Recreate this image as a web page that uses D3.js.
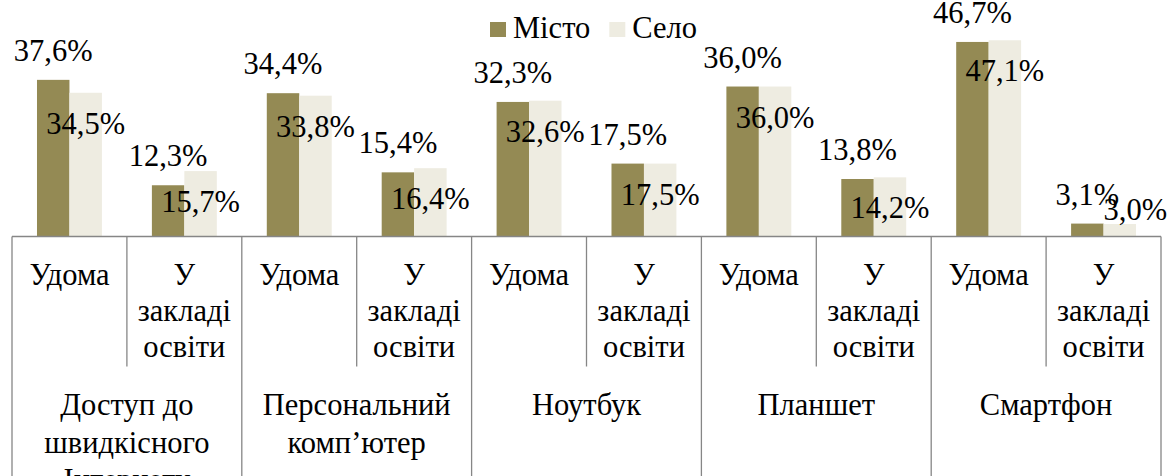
<!DOCTYPE html>
<html>
<head>
<meta charset="utf-8">
<script src="https://cdn.jsdelivr.net/npm/d3@7"></script>
</head>
<body style="margin:0">
<svg id="chart" width="1168" height="476" font-family="Liberation Serif, Times New Roman, Tinos, Noto Serif, DejaVu Serif, serif"></svg>
<script>
// ---- data ----
const groups = ["Доступ до швидкісного Інтернету", "Персональний комп’ютер", "Ноутбук", "Планшет", "Смартфон"];
const places = ["Удома", "У закладі освіти"];
const series = ["Місто", "Село"];
const mistoValues = [37.6, 12.3, 34.4, 15.4, 32.3, 17.5, 36.0, 13.8, 46.7, 3.1];
const seloValues = [34.5, 15.7, 33.8, 16.4, 32.6, 17.5, 36.0, 14.2, 47.1, 3.0];
const colors = ["#948A54", "#EEECE1"];

// ---- layout ----
const W = 1168, H = 476;
const left = 12, right = 1161, axisY = 236.5;
const fontSize = 30.5;
const FONT = "Liberation Serif, Times New Roman, Tinos, Noto Serif, DejaVu Serif, serif";
const svg = d3.select("#chart");
const addText = sel => sel.append("text").attr("font-family", FONT).attr("font-size", fontSize).attr("fill", "#000");

const slots = [];
groups.forEach((g, gi) => places.forEach((p, pi) => slots.push({ id: gi + "_" + pi, group: g, place: p, gi, pi })));
slots.forEach((s, i) => { s.values = [mistoValues[i], seloValues[i]]; });

const x0 = d3.scaleBand().domain(slots.map(s => s.id)).range([left, right]).padding(0);
const x1 = d3.scaleBand().domain(series).range([0, x0.bandwidth()]).paddingInner(0).paddingOuter(0.77);
const y = d3.scaleLinear().domain([0, 50]).range([axisY, axisY - 208.3]);

const fmt = v => d3.format(".1f")(v).replace(".", ",") + "%";

// bars
const gSlots = svg.append("g").selectAll("g").data(slots).join("g")
  .attr("transform", d => `translate(${x0(d.id)},0)`);
gSlots.selectAll("rect").data(d => d.values.map((v, k) => ({ v, k }))).join("rect")
  .attr("x", d => x1(series[d.k]))
  .attr("width", x1.bandwidth())
  .attr("y", d => y(d.v))
  .attr("height", d => y(0) - y(d.v))
  .attr("fill", d => colors[d.k]);

// data labels
gSlots.each(function (s) {
  const g = d3.select(this);
  s.values.forEach((v, k) => {
    const cx = x1(series[k]) + x1.bandwidth() / 2;
    const t = addText(g).text(fmt(v));
    if (k === 0) {
      t.attr("x", cx).attr("y", y(v) - 19).attr("text-anchor", "middle");
    } else {
      const inside = y(v) + 41;
      if (inside <= y(0) - 14) {
        t.attr("x", cx).attr("y", inside).attr("text-anchor", "middle");
      } else {
        t.attr("x", x1(series[k])).attr("y", y(0) - 16.5).attr("text-anchor", "start");
      }
    }
  });
});

// axis lines
const axisColor = "#868686";
svg.append("line").attr("x1", left).attr("x2", right).attr("y1", axisY).attr("y2", axisY)
  .attr("stroke", axisColor).attr("stroke-width", 1.3);
const subBottom = 366.5;
const boundaries = d3.range(slots.length + 1);
svg.append("g").selectAll("line").data(boundaries).join("line")
  .attr("x1", i => i < slots.length ? x0(slots[i].id) : right)
  .attr("x2", i => i < slots.length ? x0(slots[i].id) : right)
  .attr("y1", axisY)
  .attr("y2", i => (i % 2 === 0) ? H : subBottom)
  .attr("stroke", axisColor).attr("stroke-width", 1.3);

// wrap helper
function wrapText(sel, text, maxW, cx, y0, lh) {
  const words = text.split(/\s+/);
  const lines = [];
  let cur = [];
  const probe = addText(sel);
  words.forEach(w => {
    const trial = cur.concat([w]).join(" ");
    probe.text(trial);
    if (probe.node().getComputedTextLength() > maxW && cur.length) {
      lines.push(cur.join(" "));
      cur = [w];
    } else cur.push(w);
  });
  if (cur.length) lines.push(cur.join(" "));
  probe.remove();
  const t = addText(sel).attr("text-anchor", "middle");
  lines.forEach((l, i) => t.append("tspan").attr("x", cx).attr("y", y0 + i * lh).text(l));
}

// place labels
const labels = svg.append("g");
slots.forEach(s => {
  wrapText(labels, s.place, x0.bandwidth() - 8, x0(s.id) + x0.bandwidth() / 2, 285, 36);
});
// group labels
groups.forEach((g, gi) => {
  const a = x0(slots[gi * 2].id);
  const w = x0.bandwidth() * 2;
  wrapText(labels, g, w - 10, a + w / 2, 415, 37.5);
});

// legend
const legend = svg.append("g");
let lx = 490;
series.forEach((s, k) => {
  legend.append("rect").attr("x", lx).attr("y", 22).attr("width", 16).attr("height", 15).attr("fill", colors[k]);
  const t = addText(legend).attr("x", lx + 23).attr("y", 38).text(s);
  lx += 23 + t.node().getComputedTextLength() + 19;
});
</script>
</body>
</html>
